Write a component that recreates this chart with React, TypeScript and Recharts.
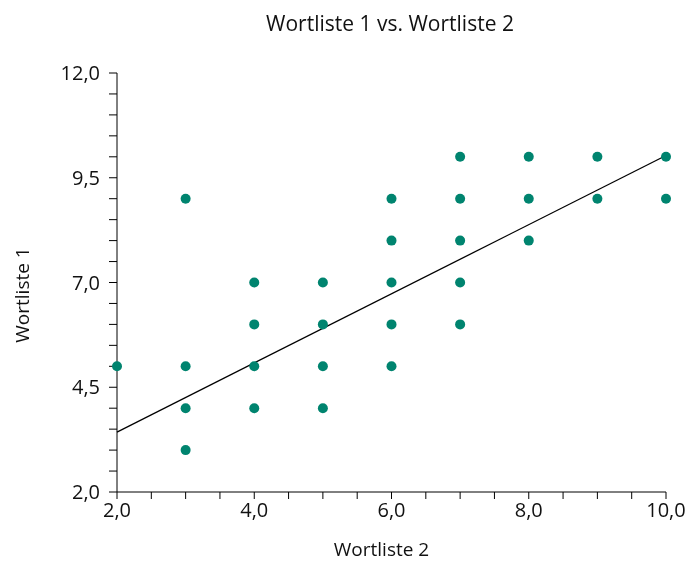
import { ReferenceLine, Scatter, ScatterChart, XAxis, YAxis } from "recharts";

const wortliste2 = [2, 3, 3, 3, 3, 4, 4, 4, 4, 5, 5, 5, 5, 6, 6, 6, 6, 6, 7, 7, 7, 7, 7, 8, 8, 8, 9, 9, 10, 10];
const wortliste1 = [5, 9, 5, 4, 3, 7, 6, 5, 4, 7, 6, 5, 4, 9, 8, 7, 6, 5, 10, 9, 8, 7, 6, 10, 9, 8, 10, 9, 10, 9];

const trendX = [2, 10];
const trendY = [3.43, 10.03];

const xTicks = [2, 2.5, 3, 3.5, 4, 4.5, 5, 5.5, 6, 6.5, 7, 7.5, 8, 8.5, 9, 9.5, 10];
const xLabels = [2, 4, 6, 8, 10];
const yTicks = [2, 2.5, 3, 3.5, 4, 4.5, 5, 5.5, 6, 6.5, 7, 7.5, 8, 8.5, 9, 9.5, 10, 10.5, 11, 11.5, 12];
const yLabels = [2, 4.5, 7, 9.5, 12];

const points = wortliste2.map((x, i) => ({ x, y: wortliste1[i] }));

const FONT = "'Open Sans', sans-serif";
const DOT = "#00846f";

const fmt = (labels: number[]) => (v: number) =>
  labels.includes(v) ? v.toFixed(1).replace(".", ",") : "";

function Dot(props: any) {
  return <circle cx={props.cx} cy={props.cy} r={5} fill={DOT} />;
}

export default function App() {
  return (
    <div style={{ position: "fixed", left: 0, top: 0, width: 687, height: 563, background: "#fff" }}>
      <div
        style={{
          position: "absolute",
          top: 9,
          left: 0,
          width: 780,
          textAlign: "center",
          fontFamily: FONT,
          fontSize: 21,
          color: "#111",
        }}
      >
        Wortliste 1 vs. Wortliste 2
      </div>
      <ScatterChart width={687} height={563} margin={{ top: 73, right: 21, bottom: 0, left: 0 }}>
        <XAxis
          type="number"
          dataKey="x"
          domain={[2, 10]}
          ticks={xTicks}
          interval={0}
          height={71}
          tickSize={7}
          tickMargin={4}
          tickFormatter={fmt(xLabels)}
          stroke="#000"
          tick={{ fill: "#111", fontFamily: FONT, fontSize: 20 }}
          label={{
            content: (p: any) => (
              <text
                x={p.viewBox.x + p.viewBox.width / 2 - 10}
                y={556}
                textAnchor="middle"
                fontFamily={FONT}
                fontSize={19}
                fill="#111"
              >
                Wortliste 2
              </text>
            ),
          }}
        />
        <YAxis
          type="number"
          dataKey="y"
          domain={[2, 12]}
          ticks={yTicks}
          interval={0}
          width={117}
          tickSize={8}
          tickMargin={9}
          tickFormatter={fmt(yLabels)}
          stroke="#000"
          tick={{ fill: "#111", fontFamily: FONT, fontSize: 20 }}
          label={{
            content: () => (
              <text
                x={0}
                y={0}
                transform="translate(29, 295) rotate(-90)"
                textAnchor="middle"
                fontFamily={FONT}
                fontSize={19}
                fill="#111"
              >
                Wortliste 1
              </text>
            ),
          }}
        />
        <Scatter data={points} shape={<Dot />} isAnimationActive={false} />
        <ReferenceLine
          segment={[
            { x: trendX[0], y: trendY[0] },
            { x: trendX[1], y: trendY[1] },
          ]}
          stroke="#000"
          strokeWidth={1.3}
          ifOverflow="visible"
        />
      </ScatterChart>
    </div>
  );
}
